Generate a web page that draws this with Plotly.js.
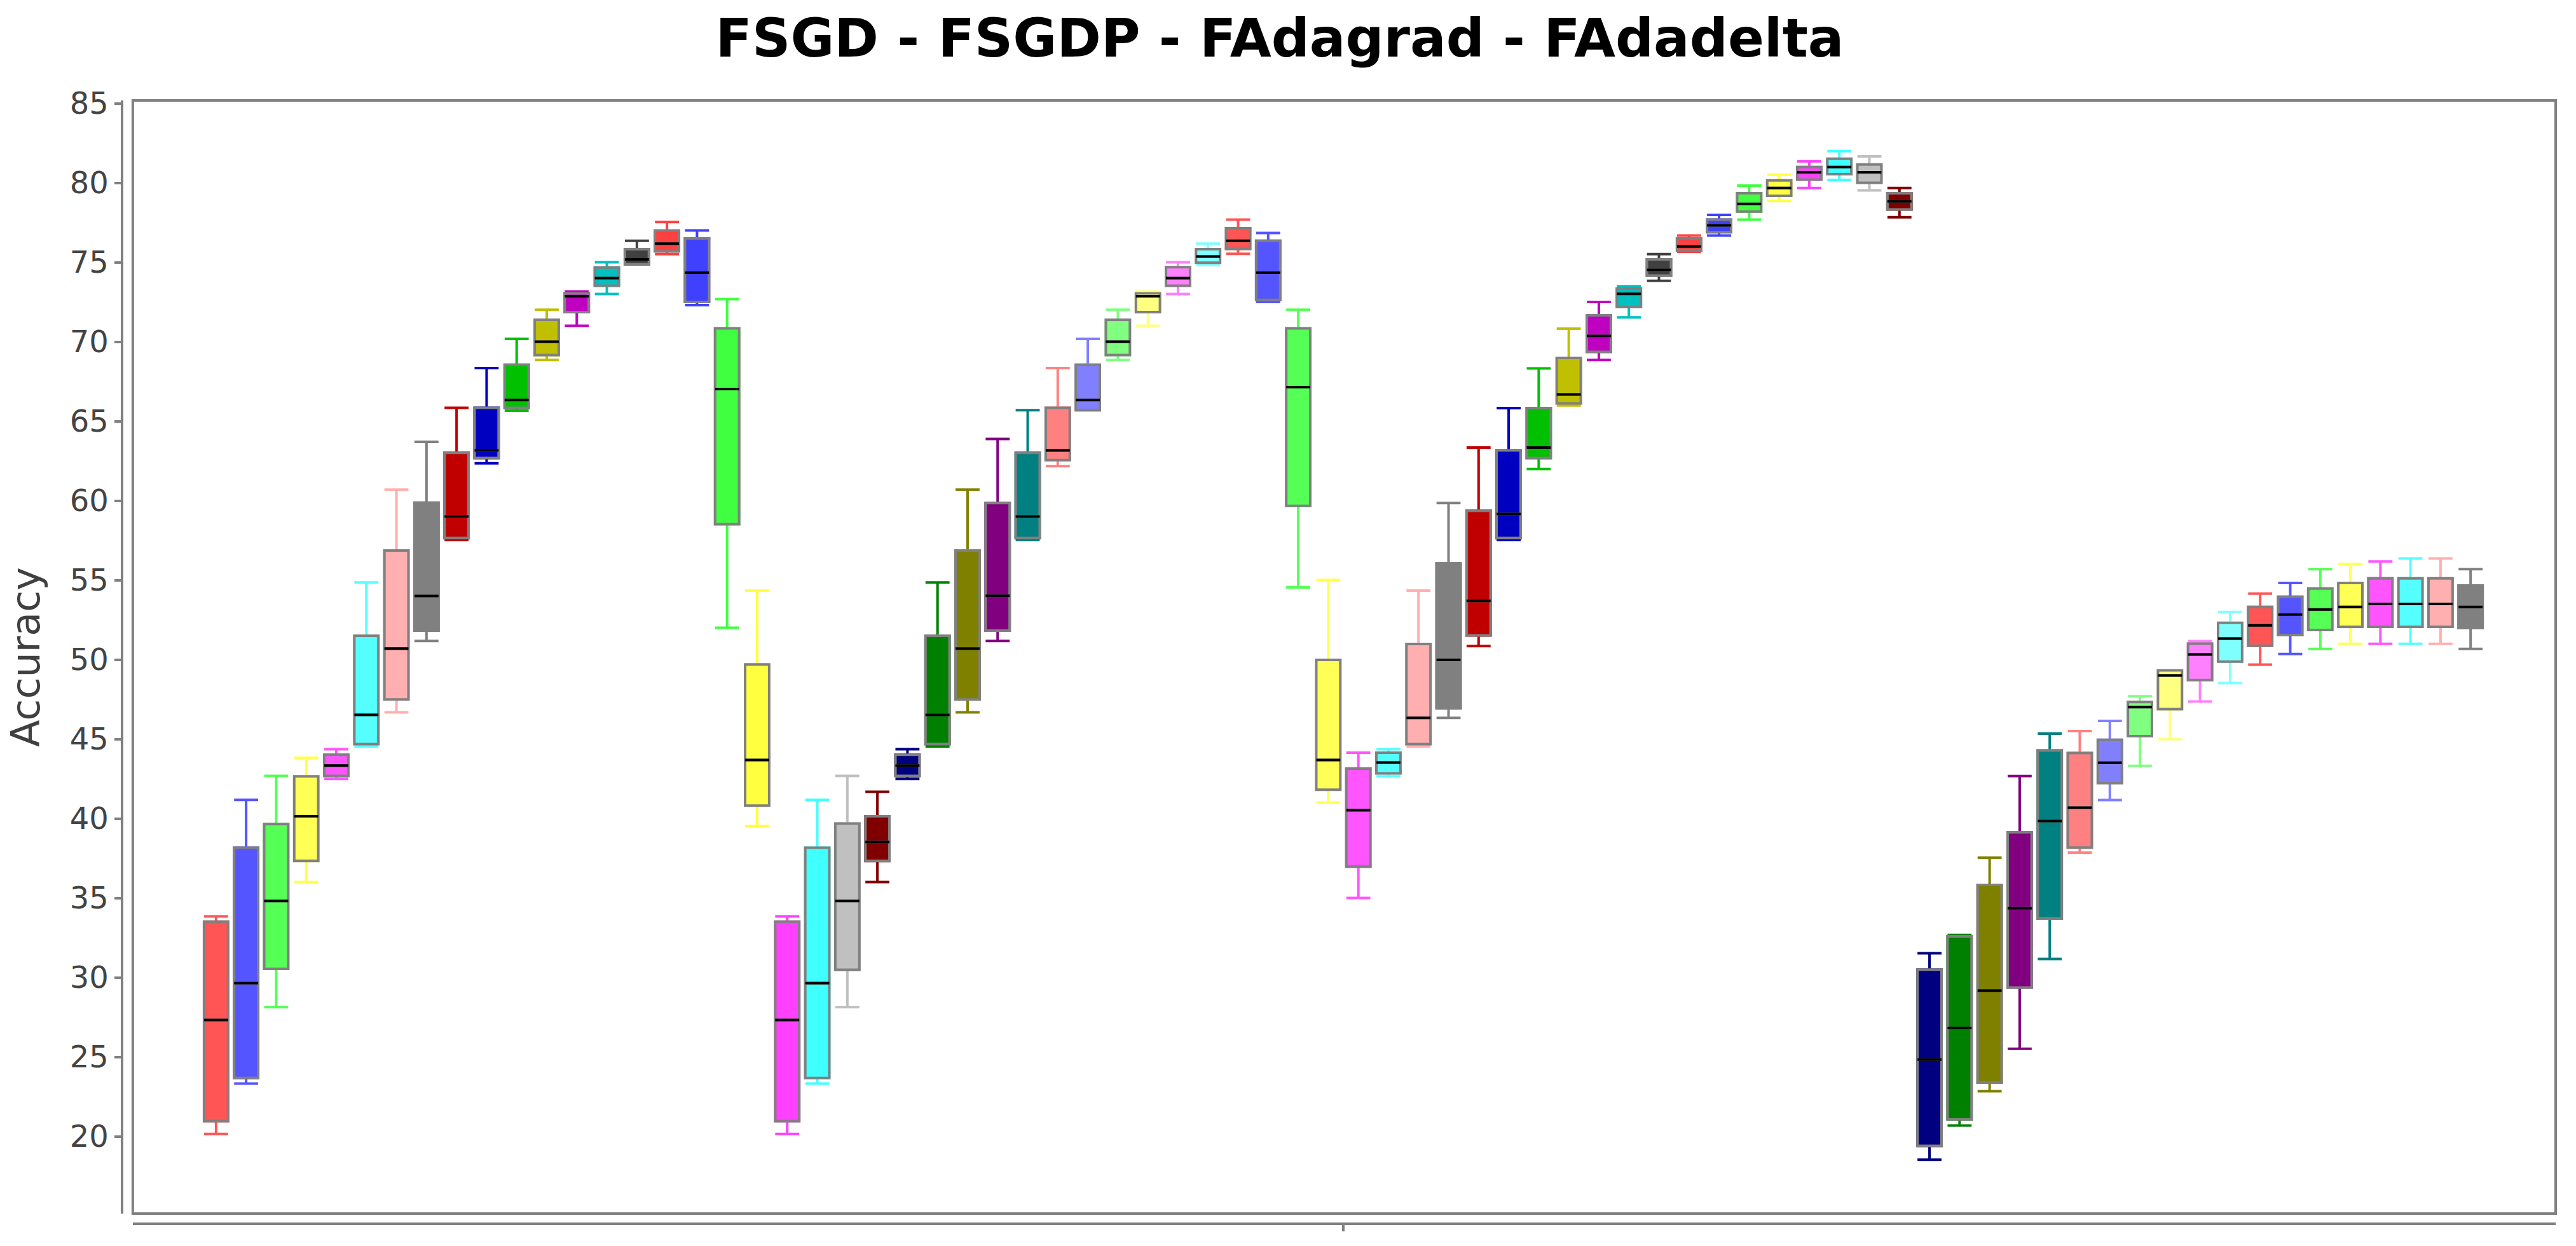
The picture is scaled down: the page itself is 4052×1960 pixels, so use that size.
<!DOCTYPE html>
<html>
<head>
<meta charset="utf-8">
<script src="https://cdn.plot.ly/plotly-3.0.1.min.js"></script>
<style>
  html, body { margin: 0; padding: 0; background: #ffffff; }
  #chart { width: 4052px; height: 1960px; }
</style>
</head>
<body>
<div id="chart"></div>
<script>
// one box per series, four runs of 19 (FSGD, FSGDP, FAdagrad, FAdadelta)
const lowerFence = [
  20.15, 23.32, 28.13, 36.0, 42.49, 44.52, 46.68, 51.17, 57.53, 62.35, 65.66, 68.85, 71.0, 73.0, 74.87, 75.51, 72.3, 52.0, 39.52,
  20.15, 23.32, 28.13, 36.0, 42.49, 44.52, 46.68, 51.17, 57.53, 62.17, 65.69, 68.85, 71.0, 73.0, 74.82, 75.53, 72.5, 54.54, 41.0,
  35.0, 42.65, 44.52, 46.33, 50.85, 57.53, 61.99, 65.99, 68.85, 71.53, 73.83, 75.66, 76.68, 77.68, 78.85, 79.67, 80.18, 79.52, 77.83,
  18.53, 20.68, 22.84, 25.51, 31.16, 37.85, 41.16, 43.31, 44.99, 47.36, 48.52, 49.68, 50.35, 50.67, 50.99, 50.99, 50.99, 50.99, 50.67
];
const q1 = [
  20.96, 23.67, 30.54, 37.33, 42.68, 44.68, 47.49, 51.82, 57.65, 62.68, 65.84, 69.16, 71.86, 73.52, 74.87, 75.69, 72.5, 58.52, 40.81,
  20.96, 23.67, 30.48, 37.33, 42.68, 44.68, 47.49, 51.82, 57.65, 62.55, 65.69, 69.16, 71.86, 73.52, 74.97, 75.84, 72.63, 59.67, 41.81,
  36.97, 42.84, 44.68, 46.93, 51.52, 57.65, 62.68, 66.12, 69.36, 72.19, 74.16, 75.74, 76.89, 78.19, 79.18, 80.2, 80.54, 80.0, 78.32,
  19.4, 21.07, 23.38, 29.36, 33.7, 38.17, 42.22, 45.18, 46.88, 48.71, 49.87, 50.87, 51.54, 51.86, 52.06, 52.06, 52.06, 52.06, 51.99
];
const median = [
  27.32, 29.64, 34.81, 40.14, 43.33, 46.52, 50.69, 54.0, 59.0, 63.16, 66.33, 70.0, 72.86, 74.0, 75.18, 76.17, 74.34, 67.02, 43.68,
  27.32, 29.64, 34.81, 38.52, 43.33, 46.52, 50.69, 54.01, 59.0, 63.16, 66.33, 70.0, 72.86, 74.0, 75.36, 76.35, 74.34, 67.14, 43.68,
  40.52, 43.52, 46.33, 49.98, 53.69, 59.16, 63.34, 66.68, 70.36, 73.01, 74.52, 75.99, 77.32, 78.67, 79.67, 80.66, 80.99, 80.66, 78.83,
  24.83, 26.82, 29.17, 34.35, 39.84, 40.68, 43.51, 47.01, 49.0, 50.32, 51.32, 52.15, 52.83, 53.15, 53.31, 53.5, 53.5, 53.5, 53.31
];
const q3 = [
  33.51, 38.16, 39.65, 42.65, 44.01, 51.5, 56.86, 59.87, 63.01, 65.84, 68.55, 71.38, 73.04, 74.67, 75.82, 76.99, 76.5, 70.84, 49.69,
  33.51, 38.16, 39.68, 40.14, 44.01, 51.5, 56.86, 59.85, 63.01, 65.84, 68.55, 71.38, 73.04, 74.69, 75.82, 77.14, 76.35, 70.84, 49.98,
  43.14, 44.14, 50.98, 56.05, 59.36, 63.16, 65.82, 68.98, 71.66, 73.34, 75.18, 76.5, 77.68, 79.34, 80.15, 80.99, 81.51, 81.15, 79.34,
  30.49, 32.58, 35.82, 39.13, 44.28, 44.12, 44.95, 47.33, 49.32, 51.0, 52.31, 53.31, 53.95, 54.47, 54.82, 55.11, 55.11, 55.11, 54.66
];
const upperFence = [
  33.84, 41.17, 42.68, 43.82, 44.36, 54.85, 60.69, 63.7, 65.84, 68.34, 70.18, 72.01, 73.16, 75.0, 76.35, 77.53, 77.0, 72.68, 54.34,
  33.84, 41.17, 42.68, 41.68, 44.36, 54.85, 60.69, 63.88, 65.69, 68.34, 70.18, 72.01, 73.16, 75.0, 76.17, 77.68, 76.84, 72.01, 55.01,
  44.14, 44.36, 54.34, 59.85, 63.34, 65.82, 68.32, 70.82, 72.5, 73.49, 75.51, 76.68, 77.98, 79.82, 80.51, 81.35, 81.99, 81.66, 79.67,
  31.52, 32.67, 37.53, 42.67, 45.34, 45.5, 46.14, 47.69, 49.32, 51.16, 52.99, 54.15, 54.82, 55.69, 56.01, 56.17, 56.36, 56.36, 55.69
];

// jfreechart default paint sequence, repeats every 34 series
const paints = [
  '#ff5555', '#5555ff', '#55ff55', '#ffff55', '#ff55ff', '#55ffff', '#ffafaf', '#808080',
  '#c00000', '#0000c0', '#00c000', '#c0c000', '#c000c0', '#00c0c0', '#404040',
  '#ff4040', '#4040ff', '#40ff40', '#ffff40', '#ff40ff', '#40ffff', '#c0c0c0',
  '#800000', '#000080', '#008000', '#808000', '#800080', '#008080',
  '#ff8080', '#8080ff', '#80ff80', '#ffff80', '#ff80ff', '#80ffff'
];

const boxWidth = 0.8;
const positions = median.map((m, i) => i);

const traces = [];

// filled box + coloured whiskers, one trace per series
positions.forEach(i => {
  const c = paints[i % paints.length];
  traces.push({
    type: 'box',
    x: [i],
    q1: [q1[i]], median: [median[i]], q3: [q3[i]],
    lowerfence: [lowerFence[i]], upperfence: [upperFence[i]],
    width: boxWidth,
    whiskerwidth: 1,
    fillcolor: c,
    line: { color: c, width: 4 },
    hoverinfo: 'skip',
    showlegend: false
  });
});

// grey box outline
traces.push({
  type: 'box',
  x: positions,
  q1: q1, median: median, q3: q3,
  lowerfence: q1, upperfence: q3,
  width: boxWidth,
  whiskerwidth: 0,
  fillcolor: 'rgba(0,0,0,0)',
  line: { color: '#808080', width: 4 },
  hoverinfo: 'skip',
  showlegend: false
});

// black median bar
traces.push({
  type: 'box',
  x: positions,
  q1: median, median: median, q3: median,
  lowerfence: median, upperfence: median,
  width: boxWidth,
  whiskerwidth: 0,
  fillcolor: 'rgba(0,0,0,0)',
  line: { color: '#000000', width: 4 },
  hoverinfo: 'skip',
  showlegend: false
});

const layout = {
  width: 4052,
  height: 1960,
  paper_bgcolor: '#ffffff',
  plot_bgcolor: '#ffffff',
  margin: { l: 170, r: 32, t: 158, b: 25 },
  boxmode: 'overlay',
  font: { family: 'DejaVu Sans', color: '#404040' },
  title: {
    text: 'FSGD - FSGDP - FAdagrad - FAdadelta',
    font: { family: 'DejaVu Sans', size: 84, color: '#000000', weight: 'bold' },
    x: 0.4968,
    xanchor: 'center',
    y: 0.9694,
    yref: 'container',
    yanchor: 'middle'
  },
  xaxis: {
    domain: [0.0101, 1],
    range: [-2.77, 77.83],
    anchor: 'free',
    position: 0.0056,
    showgrid: false,
    zeroline: false,
    showline: true,
    linecolor: '#808080',
    linewidth: 4,
    tickvals: [37.5],
    ticktext: [' '],
    ticks: 'outside',
    ticklen: 10,
    tickwidth: 4,
    tickcolor: '#808080'
  },
  yaxis: {
    domain: [0.01463, 1],
    range: [15.14, 85.18],
    anchor: 'free',
    position: 0.00584,
    showgrid: false,
    zeroline: false,
    showline: true,
    linecolor: '#808080',
    linewidth: 4,
    tick0: 0,
    dtick: 5,
    ticks: 'outside',
    ticklen: 10,
    tickwidth: 4,
    tickcolor: '#808080',
    tickfont: { family: 'DejaVu Sans', size: 48, color: '#444444' },
    title: {
      text: 'Accuracy',
      font: { family: 'DejaVu Sans', size: 62, color: '#404040' },
      standoff: 26
    }
  },
  shapes: [{
    type: 'rect',
    xref: 'x domain', yref: 'y domain',
    x0: 0, x1: 1, y0: 0, y1: 1,
    line: { color: '#808080', width: 4 },
    fillcolor: 'rgba(0,0,0,0)',
    layer: 'above'
  }]
};

Plotly.newPlot('chart', traces, layout, { staticPlot: true });
</script>
</body>
</html>
